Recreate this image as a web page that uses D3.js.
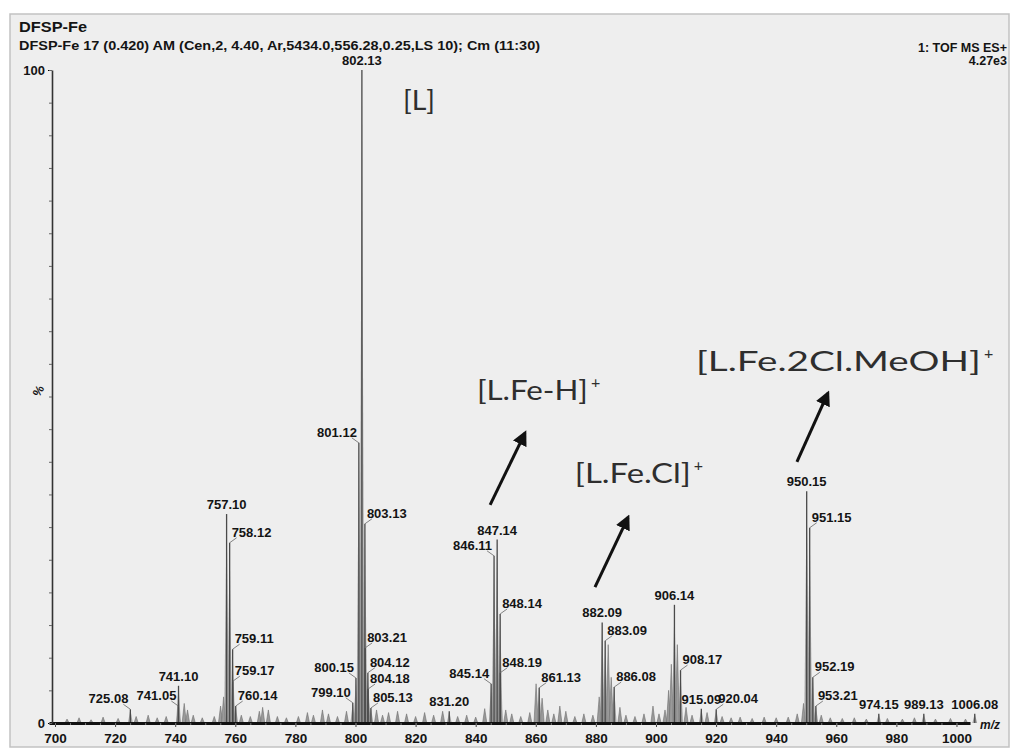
<!DOCTYPE html>
<html>
<head>
<meta charset="utf-8">
<script src="https://cdn.jsdelivr.net/npm/d3@7/dist/d3.min.js"></script>
<style>
  body { margin: 0; background: #fff; }
  svg { display: block; }
  .bold { font-family: "Liberation Sans", Arial, sans-serif; font-weight: bold; fill: #141414; }
  .peak-label { font-size: 13px; }
  .ion { font-family: Lato, "Noto Sans", sans-serif; font-size: 26px; fill: #2e2e2e; }
</style>
</head>
<body>
<div id="chart"></div>
<script>
// labelled peaks: m/z and relative intensity (%)
var peakMz = [725.08, 741.05, 741.10, 757.10, 758.12, 759.11, 759.17, 760.14,
  799.10, 800.15, 801.12, 802.13, 803.13, 803.21, 804.12, 804.18, 805.13,
  831.20, 845.14, 846.11, 847.14, 848.14, 848.19, 861.13, 882.09, 883.09,
  886.08, 906.14, 908.17, 915.09, 920.04, 950.15, 951.15, 952.19, 953.21,
  974.15, 989.13, 1006.08];
var peakIntensity = [2.1, 2.6, 5.7, 32.0, 27.6, 11.3, 6.4, 2.6,
  3.1, 6.9, 42.9, 100, 30.5, 11.5, 7.7, 5.2, 2.3,
  1.8, 6.0, 25.6, 28.1, 16.7, 7.7, 5.4, 15.4, 12.6,
  5.5, 18.1, 8.1, 2.2, 2.1, 35.5, 29.9, 7.0, 2.6,
  1.4, 1.4, 1.4];

// unlabelled small peaks along the baseline
var noiseMz = [704, 708, 712, 716, 721, 727, 731, 734, 737, 743, 744.1, 746, 749,
  753, 755.1, 756.1, 762, 765, 768, 769.1, 771, 774, 777, 781, 784, 786, 789,
  791, 794, 797, 807, 809, 811, 814, 817, 820, 823, 826, 829, 834, 837, 840,
  843, 850, 852, 855, 858, 860.1, 862.1, 864, 866, 868, 870, 873, 876, 879,
  881.1, 884.1, 885.1, 888, 890, 893, 896, 899, 901, 903, 904.2, 905.1, 907.1,
  910, 912, 917, 922, 925, 928, 932, 936, 940, 944, 947, 949.1, 955, 958, 962,
  966, 970, 977, 982, 986, 993, 998, 1003];
var noiseIntensity = [0.6, 0.8, 0.5, 0.9, 0.7, 1.0, 1.2, 0.8, 1.0, 3.0, 2.0, 1.2, 0.8,
  1.0, 2.6, 4.0, 1.2, 1.0, 1.8, 2.4, 2.0, 1.0, 0.8, 1.0, 1.6, 1.2, 2.0,
  1.4, 1.0, 1.8, 2.0, 1.2, 1.6, 1.8, 1.4, 1.0, 1.6, 1.2, 1.8, 1.0, 1.2, 0.9,
  2.2, 2.0, 1.4, 1.0, 1.6, 6.0, 3.8, 2.0, 1.4, 2.6, 1.8, 1.0, 1.4, 1.2,
  4.0, 12.0, 7.0, 2.4, 1.2, 1.0, 1.4, 2.6, 1.4, 2.0, 5.0, 9.0, 12.0,
  2.4, 1.2, 1.6, 1.0, 0.8, 0.9, 0.7, 0.9, 0.8, 0.9, 1.4, 3.0, 1.2, 0.8, 0.7,
  0.8, 0.6, 0.7, 0.6, 0.8, 0.6, 0.7, 0.6];

var xTickLabels = [700, 720, 740, 760, 780, 800, 820, 840, 860, 880, 900, 920, 940, 960, 980, 1000];
var yTickLabels = [0, 100];

var title = "DFSP-Fe";
var subtitle = "DFSP-Fe 17 (0.420) AM (Cen,2, 4.40, Ar,5434.0,556.28,0.25,LS 10); Cm (11:30)";
var scanInfo = ["1: TOF MS ES+", "4.27e3"];

var ionNames = ["[L]", "[L.Fe-H]", "[L.Fe.Cl]", "[L.Fe.2Cl.MeOH]"];
var ionCharges = ["", "+", "+", "+"];

// which side the software put each peak label on
var leftLabels = ["725.08", "741.05", "799.10", "800.15", "801.12", "845.14", "846.11"];
var rightLabels = ["758.12", "759.11", "759.17", "760.14", "803.13", "803.21", "804.12",
  "804.18", "805.13", "848.14", "848.19", "861.13", "883.09", "886.08", "908.17",
  "920.04", "951.15", "952.19", "953.21"];

var width = 1011;
var height = 750;

var svg = d3
  .select("#chart")
  .append("svg")
  .attr("width", width)
  .attr("height", height);

// scanned page background
svg
  .append("rect")
  .attr("x", 10)
  .attr("y", 14)
  .attr("width", 999)
  .attr("height", 733)
  .attr("fill", "#eeeeee")
  .attr("stroke", "#c2c2c2")
  .attr("stroke-width", 1.5);

var xScale = d3.scaleLinear().domain([698, 1004.5]).range([49, 970]);
var yScale = d3.scaleLinear().domain([0, 100]).range([723, 70]);

var fmt = d3.format(".2f");

var peaks = peakMz.map(function(m, i) {
  return { mz: m, pct: peakIntensity[i], label: fmt(m) };
});
var noise = noiseMz.map(function(m, i) {
  return { mz: m, pct: noiseIntensity[i] };
});

var line = d3
  .line()
  .x(function(p) { return xScale(p[0]); })
  .y(function(p) { return yScale(p[1]); });

function peakShape(d, w) {
  return line([[d.mz - w, 0], [d.mz, d.pct], [d.mz + w, 0]]);
}

// noise bumps
svg
  .append("g")
  .selectAll("path")
  .data(noise)
  .enter()
  .append("path")
  .attr("d", function(d) { return peakShape(d, 0.7); })
  .attr("fill", "#9a9a9a")
  .attr("stroke", "#6e6e6e")
  .attr("stroke-width", 0.6);

// labelled peaks, gray body with a dark stick
var peakG = svg.append("g");
peakG
  .selectAll("path")
  .data(peaks)
  .enter()
  .append("path")
  .attr("d", function(d) { return peakShape(d, 0.8); })
  .attr("fill", "#8c8c8c")
  .attr("fill-opacity", 0.8);

peakG
  .selectAll("line")
  .data(peaks)
  .enter()
  .append("line")
  .attr("x1", function(d) { return xScale(d.mz); })
  .attr("x2", function(d) { return xScale(d.mz); })
  .attr("y1", yScale(0))
  .attr("y2", function(d) { return yScale(d.pct); })
  .attr("stroke", "#4a4a4a")
  .attr("stroke-width", 1.3);

// axes
var xAxis = d3
  .axisBottom(xScale)
  .tickValues(xTickLabels)
  .tickSize(4)
  .tickSizeOuter(0)
  .tickPadding(6)
  .tickFormat(d3.format("d"));

var xg = svg
  .append("g")
  .attr("transform", "translate(0," + yScale(0) + ")")
  .call(xAxis);
xg.select(".domain").attr("stroke", "#111").attr("stroke-width", 3);
xg.selectAll(".tick line").attr("stroke", "#444");
xg.selectAll("text").attr("class", "bold").style("font-size", "13.5px");

svg
  .append("g")
  .attr("transform", "translate(0," + yScale(0) + ")")
  .call(d3.axisBottom(xScale).ticks(60).tickSize(2).tickFormat(""))
  .call(function(g) { g.select(".domain").remove(); })
  .selectAll("line")
  .attr("stroke", "#777");

var yg = svg
  .append("g")
  .attr("transform", "translate(52,0)")
  .call(d3.axisLeft(yScale).tickValues(yTickLabels).tickSize(4).tickSizeOuter(0).tickPadding(3));
yg.select(".domain").attr("stroke", "#333").attr("stroke-width", 1.6);
yg.selectAll("text").attr("class", "bold").style("font-size", "13px");

svg
  .append("g")
  .attr("transform", "translate(52,0)")
  .call(d3.axisLeft(yScale).ticks(20).tickSize(3).tickFormat(""))
  .call(function(g) { g.select(".domain").remove(); })
  .selectAll("line")
  .attr("stroke", "#666");

svg
  .append("text")
  .attr("class", "bold")
  .attr("transform", "translate(42,393) rotate(-60)")
  .attr("text-anchor", "middle")
  .style("font-size", "12px")
  .text("%");

svg
  .append("text")
  .attr("class", "bold")
  .attr("x", 990)
  .attr("y", 729)
  .attr("text-anchor", "middle")
  .style("font-size", "12px")
  .style("font-style", "italic")
  .text("m/z");

// header
svg
  .append("text")
  .attr("class", "bold")
  .attr("x", 19)
  .attr("y", 32)
  .attr("textLength", 68)
  .attr("lengthAdjust", "spacingAndGlyphs")
  .style("font-size", "14px")
  .text(title);

svg
  .append("text")
  .attr("class", "bold")
  .attr("x", 19)
  .attr("y", 50)
  .attr("textLength", 521)
  .attr("lengthAdjust", "spacingAndGlyphs")
  .style("font-size", "12.5px")
  .text(subtitle);

svg
  .append("g")
  .selectAll("text")
  .data(scanInfo)
  .enter()
  .append("text")
  .attr("class", "bold")
  .attr("x", 1007)
  .attr("y", function(d, i) { return 52 + i * 13; })
  .attr("text-anchor", "end")
  .style("font-size", "12.5px")
  .text(function(d) { return d; });

// peak labels with leader lines
var labelG = svg.append("g");

function side(d) {
  if (leftLabels.indexOf(d.label) >= 0) return -1;
  if (rightLabels.indexOf(d.label) >= 0) return 1;
  return 0;
}

labelG
  .selectAll("text")
  .data(peaks)
  .enter()
  .append("text")
  .attr("class", "bold peak-label")
  .attr("x", function(d) {
    var s = side(d);
    if (s === 0) return xScale(d.mz);
    return xScale(d.mz) + (s > 0 ? 2 : -2);
  })
  .attr("y", function(d) {
    return yScale(d.pct) - (side(d) === 0 ? 5 : 6);
  })
  .attr("text-anchor", function(d) {
    var s = side(d);
    return s === 0 ? "middle" : s > 0 ? "start" : "end";
  })
  .text(function(d) { return d.label; });

labelG
  .selectAll("line")
  .data(peaks.filter(function(d) { return side(d) !== 0; }))
  .enter()
  .append("line")
  .attr("x1", function(d) { return xScale(d.mz); })
  .attr("y1", function(d) { return yScale(d.pct); })
  .attr("x2", function(d) { return xScale(d.mz) + side(d) * 7; })
  .attr("y2", function(d) { return yScale(d.pct) - 5; })
  .attr("stroke", "#666")
  .attr("stroke-width", 0.8);

// ion annotations (placed in data units)
var ionPlace = [
  { mz: 815.8, pct: 93.9, len: 32 },
  { mz: 840.4, pct: 49.5, len: 111 },
  { mz: 873.0, pct: 36.8, len: 116 },
  { mz: 913.3, pct: 53.9, len: 285 }
];

var ionG = svg.append("g");
ionNames.forEach(function(name, i) {
  var p = ionPlace[i];
  var tx = xScale(p.mz);
  var ty = yScale(p.pct);
  ionG
    .append("text")
    .attr("class", "ion")
    .attr("x", tx)
    .attr("y", ty)
    .attr("textLength", p.len)
    .attr("lengthAdjust", "spacingAndGlyphs")
    .text(name);
  if (ionCharges[i]) {
    ionG
      .append("text")
      .attr("class", "ion")
      .attr("x", tx + p.len + 3)
      .attr("y", ty - 12)
      .style("font-size", "16px")
      .text(ionCharges[i]);
  }
});

// arrows pointing from peaks to the ion names
var arrows = [
  { from: [844.8, 33.4], to: [856.4, 44.4] },
  { from: [879.7, 20.8], to: [890.7, 31.5] },
  { from: [946.9, 40.0], to: [957.2, 50.5] }
];

svg
  .append("defs")
  .append("marker")
  .attr("id", "head")
  .attr("viewBox", "0 0 10 10")
  .attr("refX", 8)
  .attr("refY", 5)
  .attr("markerWidth", 5)
  .attr("markerHeight", 5)
  .attr("orient", "auto")
  .append("path")
  .attr("d", "M0,0L10,5L0,10z")
  .attr("fill", "#111");

svg
  .append("g")
  .selectAll("line")
  .data(arrows)
  .enter()
  .append("line")
  .attr("x1", function(d) { return xScale(d.from[0]); })
  .attr("y1", function(d) { return yScale(d.from[1]); })
  .attr("x2", function(d) { return xScale(d.to[0]); })
  .attr("y2", function(d) { return yScale(d.to[1]); })
  .attr("stroke", "#111")
  .attr("stroke-width", 3)
  .attr("marker-end", "url(#head)");
</script>
</body>
</html>
